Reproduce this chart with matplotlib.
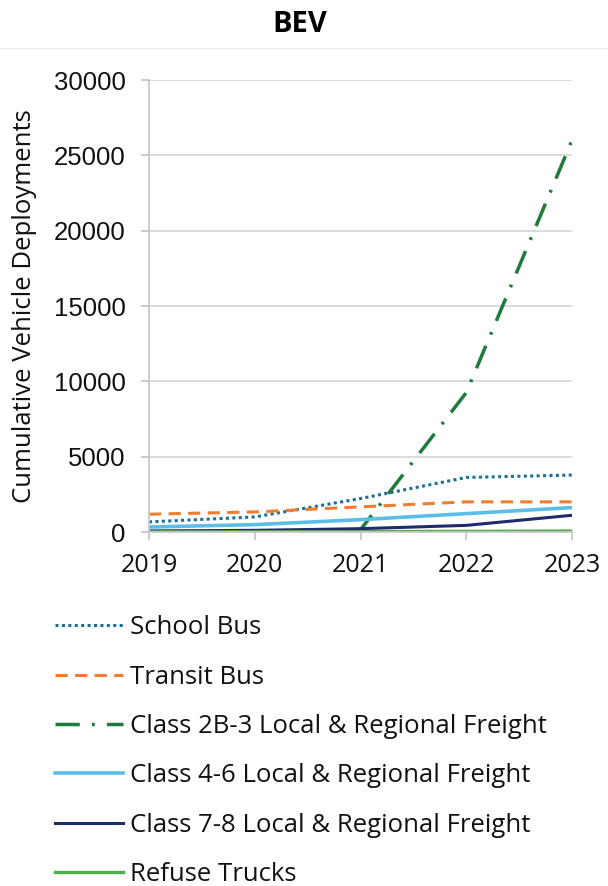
import matplotlib
matplotlib.use("Agg")
import matplotlib.pyplot as plt
from matplotlib.lines import Line2D

years = [2019, 2020, 2021, 2022, 2023]

schoolBus = [670, 1000, 2220, 3620, 3780]
transitBus = [1180, 1330, 1670, 2000, 2000]
class2b3 = [0, 0, 150, 9250, 26000]
class46 = [330, 490, 820, 1220, 1620]
class78 = [70, 110, 220, 440, 1110]
refuse = [10, 15, 25, 40, 60]

labels = [
    "School Bus",
    "Transit Bus",
    "Class 2B-3 Local & Regional Freight",
    "Class 4-6 Local & Regional Freight",
    "Class 7-8 Local & Regional Freight",
    "Refuse Trucks",
]

styles = [
    dict(color="#1F6F93", lw=2.2, ls=(0, (1, 1.1))),
    dict(color="#ED7D31", lw=2.2, ls=(0, (4, 2.4))),
    dict(color="#1E7B3C", lw=2.5, ls=(0, (7, 3.5, 0.8, 3.5))),
    dict(color="#5DBDE9", lw=2.6, ls="-"),
    dict(color="#1F2C6B", lw=2.2, ls="-"),
    dict(color="#4DAE4A", lw=2.4, ls="-"),
]
series = [schoolBus, transitBus, class2b3, class46, class78, refuse]

fig = plt.figure(figsize=(6.08, 8.86), dpi=100)

fig.text(0.493, 1 - 24 / 886, "BEV", ha="center", va="center",
         fontsize=21, fontweight="bold", family="Open Sans")
fig.add_artist(Line2D([0, 1], [1 - 47.5 / 886, 1 - 47.5 / 886], color="#EEEEEE", lw=1))

ax = fig.add_axes([149 / 608, 1 - 532 / 886, 423 / 608, 452 / 886])

for vals, st in zip(series, styles):
    ax.plot(years, vals, color=st["color"], lw=st["lw"], linestyle=st["ls"], solid_capstyle="butt")

ax.set_xlim(2019, 2023)
ax.set_ylim(0, 30000)
ax.set_xticks(years)
ax.set_yticks(range(0, 30001, 5000))
ax.grid(axis="y", color="#D9D9D9", lw=1.3)
ax.set_axisbelow(True)
for s in ["top", "right"]:
    ax.spines[s].set_visible(False)
for s in ["left", "bottom"]:
    ax.spines[s].set_color("#C8C8C8")
    ax.spines[s].set_linewidth(1.3)
ax.tick_params(axis="both", colors="#C8C8C8", length=6, width=1.3)
ax.tick_params(axis="y", pad=11, labelcolor="#111111")
ax.tick_params(axis="x", pad=9, labelcolor="#111111")
for t in ax.get_yticklabels():
    t.set_family("Liberation Sans")
    t.set_fontsize(18.5)
for t in ax.get_xticklabels():
    t.set_family("Open Sans")
    t.set_fontsize(18)

ax.set_ylabel("Cumulative Vehicle Deployments", fontsize=18.5, family="Open Sans", color="#111111")
ax.yaxis.set_label_coords(-0.265, 0.5)

handles = [Line2D([], [], color=st["color"], lw=st["lw"], linestyle=st["ls"]) for st in styles]
fig.legend(handles, labels, loc="upper left", bbox_to_anchor=(32 / 608, 1 - 592 / 886),
           frameon=False, prop={"family": "Open Sans", "size": 18.5},
           handlelength=2.65, handletextpad=0.27, labelspacing=0.95, labelcolor="#111111")

fig.savefig("out.png", dpi=100, facecolor="white")
